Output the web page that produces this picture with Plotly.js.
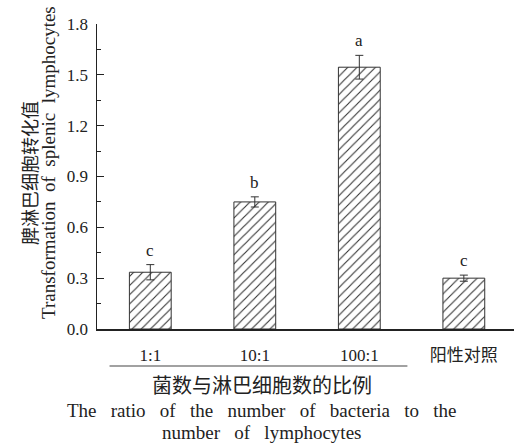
<!DOCTYPE html>
<html><head><meta charset="utf-8">
<script src="https://cdn.plot.ly/plotly-3.0.1.min.js"></script>
<style>html,body{margin:0;padding:0;background:#fff}#c{width:514px;height:445px}</style>
</head><body><div id="c"></div>
<script>
const categories = ['1:1', '10:1', '100:1', '阳性对照'];
const values = [0.335, 0.75, 1.545, 0.30];
const errors = [0.045, 0.03, 0.07, 0.018];
const letters = ['c', 'b', 'a', 'c'];
const yTicks = [0.0, 0.3, 0.6, 0.9, 1.2, 1.5, 1.8];

const serif = 'Liberation Serif, Times New Roman, serif';
const cjk = 'Noto Sans CJK SC, sans-serif';
const ink = '#222';

const trace = {
  type: 'bar', x: categories, y: values, width: 0.4,
  marker: {color: '#fff', line: {color: '#333', width: 1},
    pattern: {shape: '/', fgcolor: '#333', bgcolor: '#fff', size: 6.5, solidity: 0.17}},
  error_y: {type: 'data', array: errors, visible: true, color: '#333', thickness: 1, width: 4},
  hoverinfo: 'none'
};

const plotTop = 24, plotH = 305, plotL = 97, plotW = 514 - 97;
const px2paperY = py => (plotTop + plotH - py) / plotH;
const px2paperX = px => (px - plotL) / plotW;

const annotations = categories.map((c, i) => ({
  x: c, y: values[i] + errors[i], xref: 'x', yref: 'y', text: letters[i], showarrow: false,
  yanchor: 'bottom', yshift: 3, font: {family: serif, size: 17, color: ink}
}));
annotations.push(
  {x: px2paperX(29), y: px2paperY(173), xref: 'paper', yref: 'paper', xanchor: 'center', yanchor: 'middle',
   textangle: -90, showarrow: false, text: '脾淋巴细胞转化值', font: {family: cjk, size: 18, color: ink}},
  {x: px2paperX(48), y: px2paperY(163), xref: 'paper', yref: 'paper', xanchor: 'center', yanchor: 'middle',
   textangle: -90, showarrow: false, text: 'Transformation&nbsp; of&nbsp; splenic&nbsp; lymphocytes',
   font: {family: serif, size: 19, color: ink}},
  {x: px2paperX(262), y: px2paperY(384), xref: 'paper', yref: 'paper', xanchor: 'center', yanchor: 'middle',
   showarrow: false, text: '菌数与淋巴细胞数的比例', font: {family: cjk, size: 20, color: ink}},
  {x: px2paperX(261), y: px2paperY(410), xref: 'paper', yref: 'paper', xanchor: 'center', yanchor: 'middle',
   showarrow: false, text: 'The&nbsp;&nbsp; ratio&nbsp;&nbsp; of&nbsp;&nbsp; the&nbsp;&nbsp; number&nbsp;&nbsp; of&nbsp;&nbsp; bacteria&nbsp;&nbsp; to&nbsp;&nbsp; the',
   font: {family: serif, size: 19, color: ink}},
  {x: px2paperX(261), y: px2paperY(432), xref: 'paper', yref: 'paper', xanchor: 'center', yanchor: 'middle',
   showarrow: false, text: 'number&nbsp;&nbsp; of&nbsp;&nbsp; lymphocytes', font: {family: serif, size: 19, color: ink}}
);

const layout = {
  width: 514, height: 445,
  margin: {l: plotL, r: 0, t: plotTop, b: 445 - plotTop - plotH},
  paper_bgcolor: '#fff', plot_bgcolor: '#fff',
  showlegend: false,
  xaxis: {type: 'category', range: [-0.51, 3.48], showline: true, linecolor: ink, linewidth: 1.5,
    ticks: '', showgrid: false, zeroline: false, ticklabelstandoff: 10,
    tickfont: {family: serif + ', ' + cjk, size: 17, color: ink}},
  yaxis: {range: [0, 1.8], tickvals: yTicks, ticktext: yTicks.map(v => v.toFixed(1)), showline: true, linecolor: ink, linewidth: 1.5,
    ticks: 'inside', ticklen: 7, tickcolor: ink, showgrid: false, zeroline: false, ticklabelstandoff: 4,
    minor: {dtick: 0.15, ticks: 'inside', ticklen: 4, tickcolor: ink},
    tickfont: {family: serif, size: 17, color: ink}},
  annotations: annotations,
  shapes: [{type: 'line', xref: 'x', yref: 'paper', x0: -0.39, x1: 2.46, y0: px2paperY(366), y1: px2paperY(366),
    line: {color: '#444', width: 1.2}}]
};
Plotly.newPlot('c', [trace], layout, {displayModeBar: false, staticPlot: true});
</script></body></html>
